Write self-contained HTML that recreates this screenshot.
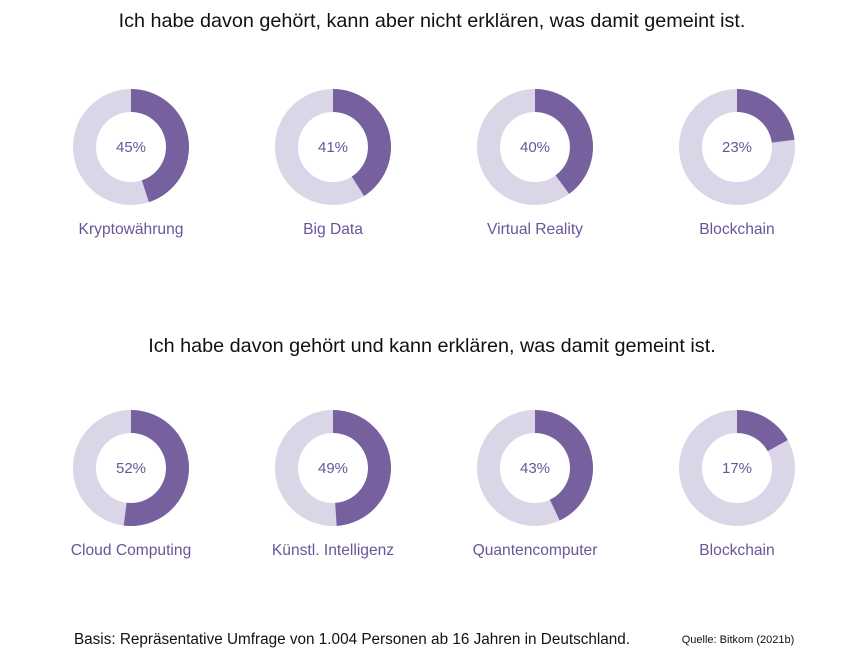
<!DOCTYPE html>
<html><head><meta charset="utf-8"><style>
body{margin:0;background:#fff;width:868px;height:651px;overflow:hidden;font-family:"Liberation Sans",sans-serif;}
</style></head><body>
<svg id="chart" width="868" height="651">
<text x="432" y="27" text-anchor="middle" font-size="19.8" fill="#111">Ich habe davon gehört, kann aber nicht erklären, was damit gemeint ist.</text>
<text x="432" y="352" text-anchor="middle" font-size="19.8" fill="#111">Ich habe davon gehört und kann erklären, was damit gemeint ist.</text>
<text x="352" y="644" text-anchor="middle" font-size="15.3" fill="#111">Basis: Repräsentative Umfrage von 1.004 Personen ab 16 Jahren in Deutschland.</text>
<text x="738" y="643" text-anchor="middle" font-size="11" fill="#111">Quelle: Bitkom (2021b)</text>
</svg>
<script>
const row1Labels=["Kryptowährung","Big Data","Virtual Reality","Blockchain"];
const row1Values=[45,41,40,23];
const row2Labels=["Cloud Computing","Künstl. Intelligenz","Quantencomputer","Blockchain"];
const row2Values=[52,49,43,17];
const svg=document.getElementById('chart');
const NS='http://www.w3.org/2000/svg';
const xs=[131,333,535,737], R=58, r=35;
function arc(cx,cy,v){
  const a=v/100*2*Math.PI;
  const x1=cx+R*Math.sin(a),y1=cy-R*Math.cos(a);
  const x2=cx+r*Math.sin(a),y2=cy-r*Math.cos(a);
  const lg=v>50?1:0;
  return `M${cx},${cy-R}A${R},${R} 0 ${lg} 1 ${x1},${y1}L${x2},${y2}A${r},${r} 0 ${lg} 0 ${cx},${cy-r}Z`;
}
function row(labels,values,cy){
  labels.forEach((lab,i)=>{
    const cx=xs[i];
    const bg=document.createElementNS(NS,'circle');
    bg.setAttribute('cx',cx);bg.setAttribute('cy',cy);bg.setAttribute('r',(R+r)/2);
    bg.setAttribute('fill','none');bg.setAttribute('stroke','#dbd5e8');bg.setAttribute('stroke-width',R-r);
    
    
    svg.appendChild(bg);
    const p=document.createElementNS(NS,'path');
    p.setAttribute('d',arc(cx,cy,values[i]));p.setAttribute('fill','#76609e');
    
    
    svg.appendChild(p);
    const t=document.createElementNS(NS,'text');
    t.setAttribute('x',cx);t.setAttribute('y',cy+5);t.setAttribute('text-anchor','middle');
    t.setAttribute('font-size','15');t.setAttribute('fill','#6a559a');
    t.textContent=values[i]+'%';
    
    
    svg.appendChild(t);
    const l=document.createElementNS(NS,'text');
    l.setAttribute('x',cx);l.setAttribute('y',cy+87);l.setAttribute('text-anchor','middle');
    l.setAttribute('font-size','15.6');l.setAttribute('fill','#6a559a');
    l.textContent=lab;
    
    
    svg.appendChild(l);
  });
}
row(row1Labels,row1Values,147);
row(row2Labels,row2Values,468);
</script>
</body></html>
